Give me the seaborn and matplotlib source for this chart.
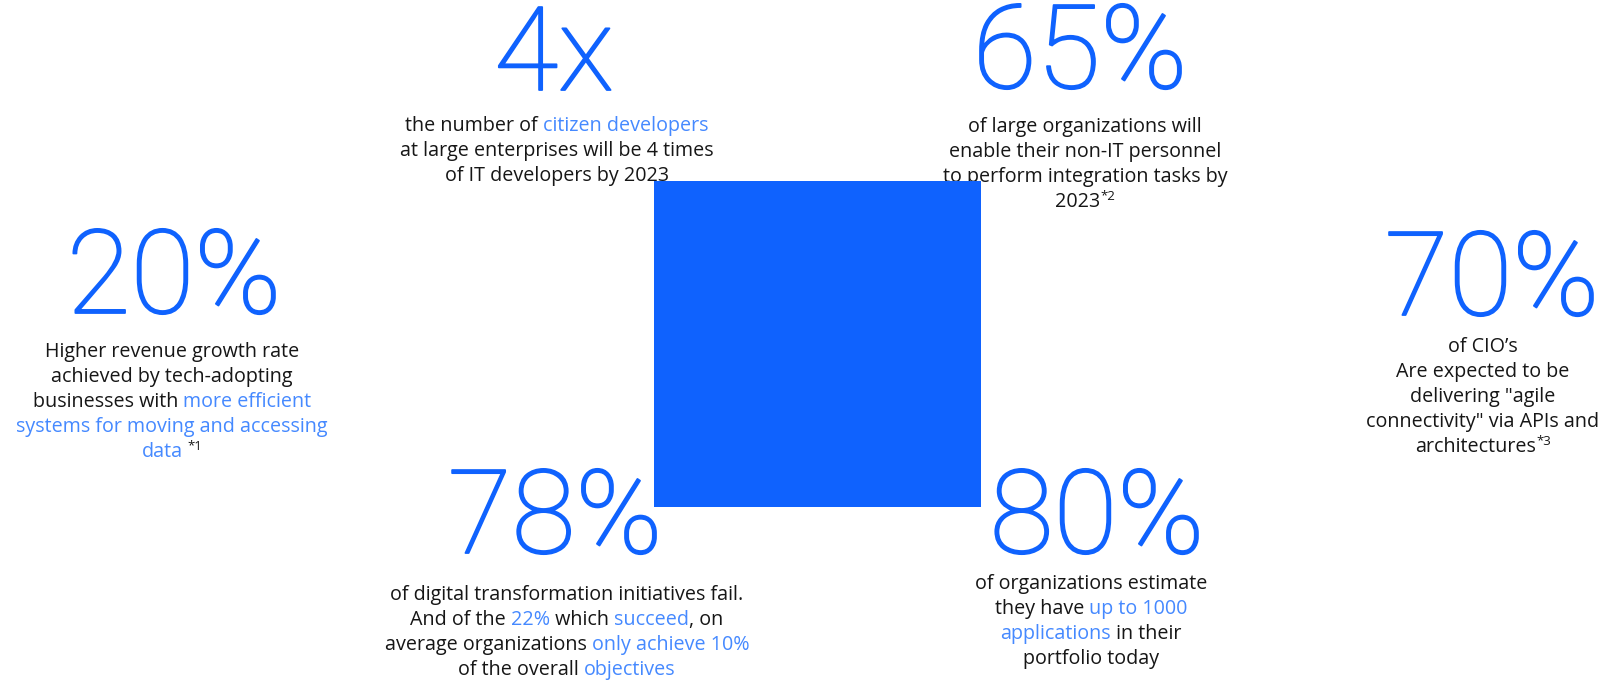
import matplotlib
matplotlib.use("Agg")
import matplotlib.pyplot as plt
import matplotlib.patheffects as pe
import seaborn as sns
from matplotlib.patches import Rectangle
from matplotlib.font_manager import FontProperties

# colours
NUM_BLUE = "#0f62fe"
LINK_BLUE = "#4589ff"
DARK = "#161616"

# the six headline figures
big_numbers = ["4x", "65%", "20%", "70%", "78%", "80%"]

# caption lines: each segment is (text, kind) with kind d=dark, b=link blue, s=superscript
captions = [
    [[("the number of ", "d"), ("citizen developers", "b")],
     [("at large enterprises will be 4 times", "d")],
     [("of IT developers by 2023", "d")]],
    [[("of large organizations will", "d")],
     [("enable their non-IT personnel", "d")],
     [("to perform integration tasks by", "d")],
     [("2023", "d"), ("*2", "s")]],
    [[("Higher revenue growth rate", "d")],
     [("achieved by tech-adopting", "d")],
     [("businesses with ", "d"), ("more efficient", "b")],
     [("systems for moving and accessing", "b")],
     [("data", "b"), (" ", "d"), ("*1", "s")]],
    [[("of CIO\u2019s", "d")],
     [("Are expected to be", "d")],
     [("delivering \"agile", "d")],
     [("connectivity\" via APIs and", "d")],
     [("architectures", "d"), ("*3", "s")]],
    [[("of digital transformation initiatives fail.", "d")],
     [("And of the ", "d"), ("22%", "b"), (" which ", "d"), ("succeed", "b"), (", on", "d")],
     [("average organizations ", "d"), ("only achieve 10%", "b")],
     [("of the overall ", "d"), ("objectives", "b")]],
    [[("of organizations estimate", "d")],
     [("they have ", "d"), ("up to 1000", "b")],
     [("applications", "b"), (" in their", "d")],
     [("portfolio today", "d")]],
]

# layout (pixel positions on a 1619x680 canvas)
num_x = [554, 1080, 174, 1492, 555, 1097]
num_base = [90, 88, 313, 315, 553, 553]
cap_x = [557, 1085, 172, 1483, 567, 1091]
cap_base = [131, 132, 357, 352, 600, 589]
line_step = 25
square = (654, 181, 327, 326)  # x, y, w, h

W, H = 1619, 680
BODY_FAMILY = ["Open Sans", "DejaVu Sans"]
NUM_FAMILY = ["Roboto", "DejaVu Sans"]

sns.set_theme(style="white")
plt.rcParams["font.family"] = BODY_FAMILY

fig = plt.figure(figsize=(W / 100, H / 100), dpi=100)
ax = fig.add_axes([0, 0, 1, 1])
ax.set_xlim(0, W)
ax.set_ylim(H, 0)
ax.axis("off")

renderer = fig.canvas.get_renderer()
fp_body = FontProperties(family=BODY_FAMILY, size=14.2)
fp_sup = FontProperties(family=BODY_FAMILY, size=9.5)
fp_num = FontProperties(family=NUM_FAMILY, weight="light", size=84)


def seg_width(s, fp):
    # pad with glyphs so leading/trailing spaces are counted
    w1, _, _ = renderer.get_text_width_height_descent("l" + s + "l", fp, ismath=False)
    w0, _, _ = renderer.get_text_width_height_descent("ll", fp, ismath=False)
    return w1 - w0


def draw_line(xc, y, segments):
    widths = [seg_width(t, fp_sup if k == "s" else fp_body) for t, k in segments]
    x = xc - sum(widths) / 2
    for (t, k), w in zip(segments, widths):
        if k == "s":
            ax.text(x, y - 7, t, fontproperties=fp_sup, color=DARK,
                    ha="left", va="baseline")
        else:
            ax.text(x, y, t, fontproperties=fp_body,
                    color=LINK_BLUE if k == "b" else DARK,
                    ha="left", va="baseline")
        x += w


# a thin outline in the same colour makes Roboto Light closer to the reference weight
thicken = [pe.withStroke(linewidth=1.3, foreground=NUM_BLUE)]

for i, num in enumerate(big_numbers):
    ax.text(num_x[i], num_base[i], num, fontproperties=fp_num, color=NUM_BLUE,
            ha="center", va="baseline", path_effects=thicken)
    for j, line in enumerate(captions[i]):
        draw_line(cap_x[i], cap_base[i] + j * line_step, line)

sx, sy, sw, sh = square
ax.add_patch(Rectangle((sx, sy), sw, sh, facecolor=NUM_BLUE, edgecolor="none", zorder=10))

fig.savefig("out.png", dpi=100, facecolor="white")
